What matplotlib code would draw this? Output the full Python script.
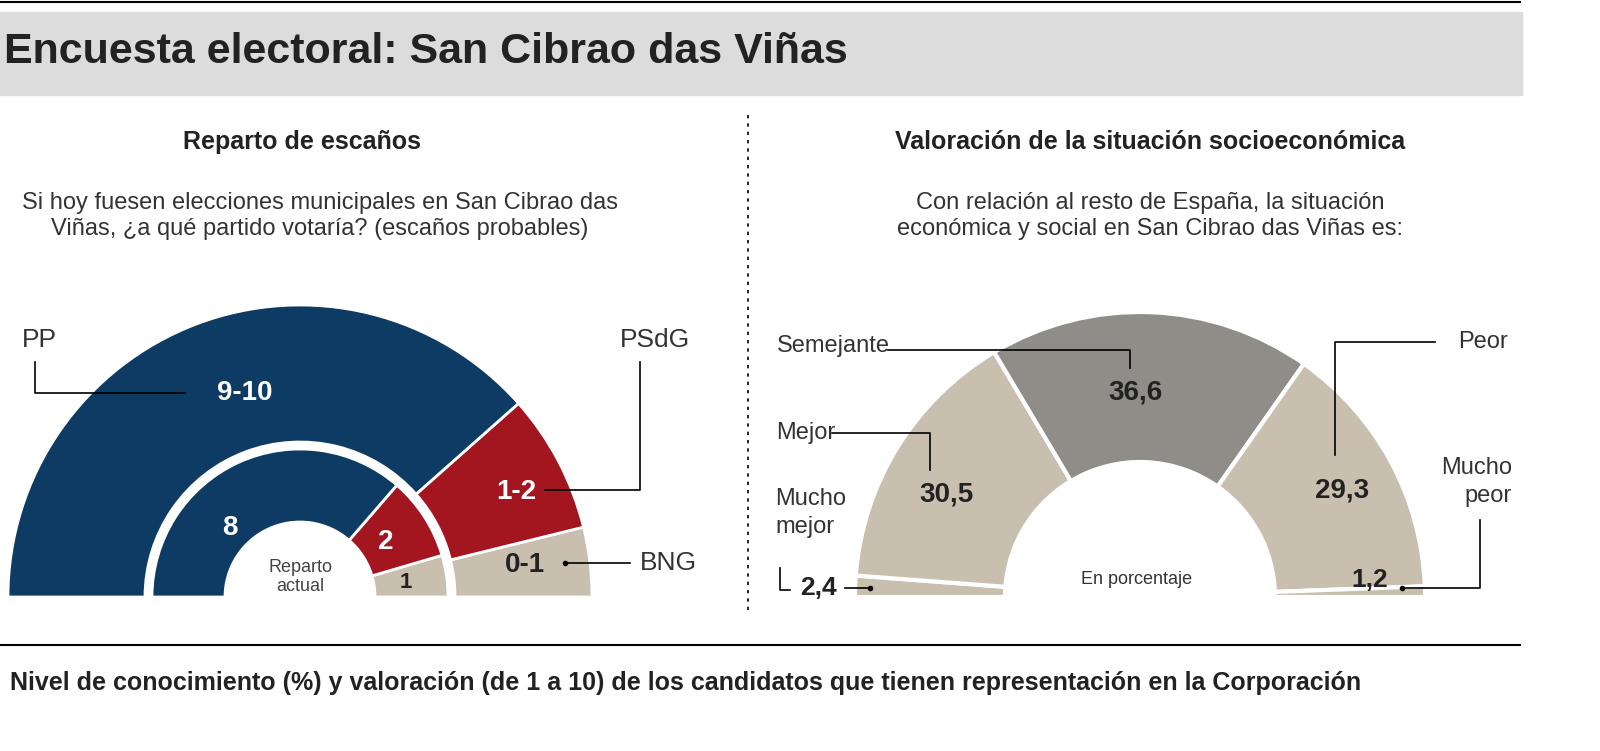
import matplotlib
matplotlib.use("Agg")
import matplotlib.pyplot as plt
from matplotlib.patches import Wedge, Rectangle

FONT = ["Liberation Sans Narrow", "Liberation Sans", "DejaVu Sans"]
plt.rcParams["font.family"] = FONT

# seats (outer = probable, inner = current), order from right (0 deg) to left
seat_parties = ["BNG", "PSdG", "PP"]
seat_probable = [1, 2, 10]
seat_probable_lbl = ["0-1", "1-2", "9-10"]
seat_current = [1, 2, 8]
party_colors = {"PP": "#0d3b63", "PSdG": "#a4161f", "BNG": "#c9bfae"}

# socioeconomic valuation, from left (180 deg) clockwise
val_cats = ["Mucho mejor", "Mejor", "Semejante", "Peor", "Mucho peor"]
val_pct = [2.4, 30.5, 36.6, 29.3, 1.2]
val_colors = ["#c9bfae", "#c9bfae", "#8f8d88", "#c9bfae", "#c9bfae"]

fig = plt.figure(figsize=(16, 7.51), dpi=100)
ax = fig.add_axes([0, 0, 1, 1])
ax.set_xlim(0, 1600)
ax.set_ylim(751, 0)
ax.axis("off")

# header
ax.plot([0, 1520], [2, 2], color="black", lw=1.5)
ax.add_patch(Rectangle((0, 12), 1522, 83, color="#dcdcdc", zorder=0))
ax.text(4, 52, "Encuesta electoral: San Cibrao das Viñas", fontsize=31,
        fontweight="bold", va="center", ha="left", color="#222222")

# left chart
ax.text(302, 142, "Reparto de escaños", fontsize=18, fontweight="bold",
        ha="center", va="center", color="#222222")
ax.text(320, 216, "Si hoy fuesen elecciones municipales en San Cibrao das\n"
        "Viñas, ¿a qué partido votaría? (escaños probables)", fontsize=17,
        ha="center", va="center", color="#333333", linespacing=1.25)

cx, cy = 300, 597


def ring(center, values, colors, r_out, width, gap_color="white", lw=2):
    total = sum(values)
    start = 0.0
    mids = []
    for v, c in zip(values, colors):
        span = 180.0 * v / total
        ax.add_patch(Wedge(center, r_out, start, start + span, width=width,
                           facecolor=c, edgecolor=gap_color, lw=lw))
        mids.append(start + span / 2)
        start += span
    return mids


ring((cx, -cy), seat_probable, [party_colors[p] for p in seat_parties], 292, 137)
ring((cx, -cy), seat_current, [party_colors[p] for p in seat_parties], 148, 73)
# wedges drawn with flipped y: fix by transforming
for p in ax.patches[1:]:
    p.set_transform(matplotlib.transforms.Affine2D().scale(1, -1) + ax.transData)

ax.text(245, 393, seat_probable_lbl[2], fontsize=20, fontweight="bold", color="white", ha="center", va="center")
ax.text(516, 492, seat_probable_lbl[1], fontsize=20, fontweight="bold", color="white", ha="center", va="center")
ax.text(525, 565, seat_probable_lbl[0], fontsize=20, fontweight="bold", color="#222222", ha="center", va="center")
ax.text(230, 528, str(seat_current[2]), fontsize=20, fontweight="bold", color="white", ha="center", va="center")
ax.text(386, 542, str(seat_current[1]), fontsize=20, fontweight="bold", color="white", ha="center", va="center")
ax.text(406, 582, str(seat_current[0]), fontsize=16, fontweight="bold", color="#222222", ha="center", va="center")
ax.text(300, 577, "Reparto\nactual", fontsize=13, color="#444444", ha="center", va="center")

ax.text(22, 340, "PP", fontsize=19, color="#333333", ha="left", va="center")
ax.plot([35, 35, 185], [362, 393, 393], color="black", lw=1.2)
ax.text(690, 340, "PSdG", fontsize=19, color="#333333", ha="right", va="center")
ax.plot([640, 640, 545], [362, 490, 490], color="black", lw=1.2)
ax.text(640, 563, "BNG", fontsize=19, color="#333333", ha="left", va="center")
ax.plot([565, 630], [563, 563], color="black", lw=1.2)
ax.plot([565], [563], "o", ms=3, color="black")

# divider
ax.plot([748, 748], [115, 612], color="black", lw=1.2, ls=(0, (2, 3)))

# right chart
rx, ry = 1140, 597
ax.text(1150, 142, "Valoración de la situación socioeconómica", fontsize=18,
        fontweight="bold", ha="center", va="center", color="#222222")
ax.text(1150, 216, "Con relación al resto de España, la situación\n"
        "económica y social en San Cibrao das Viñas es:", fontsize=17,
        ha="center", va="center", color="#333333", linespacing=1.25)

tot = sum(val_pct)
start = 180.0
for v, c in zip(val_pct, val_colors):
    span = 180.0 * v / tot
    w = Wedge((rx, ry), 285, start - span, start, width=150, facecolor=c,
              edgecolor="white", lw=3)
    w.set_transform(matplotlib.transforms.Affine2D().translate(-rx, -ry).scale(1, -1).translate(rx, ry) + ax.transData)
    ax.add_patch(w)
    start -= span

ax.text(1135, 392, f"{val_pct[2]:.1f}".replace(".", ","), fontsize=20, fontweight="bold", ha="center", va="center", color="#222222")
ax.text(946, 495, f"{val_pct[1]:.1f}".replace(".", ","), fontsize=20, fontweight="bold", ha="center", va="center", color="#222222")
ax.text(1342, 490, f"{val_pct[3]:.1f}".replace(".", ","), fontsize=20, fontweight="bold", ha="center", va="center", color="#222222")
ax.text(818, 588, f"{val_pct[0]:.1f}".replace(".", ","), fontsize=19, fontweight="bold", ha="center", va="center", color="#222222")
ax.text(1370, 580, f"{val_pct[4]:.1f}".replace(".", ","), fontsize=19, fontweight="bold", ha="center", va="center", color="#222222")
ax.text(1137, 580, "En porcentaje", fontsize=13, ha="center", va="center", color="#333333")

lc = "#333333"
ax.text(777, 346, val_cats[2], fontsize=17, ha="left", va="center", color=lc)
ax.plot([888, 1130, 1130], [350, 350, 368], color="black", lw=1.2)
ax.text(776, 433, val_cats[1], fontsize=17, ha="left", va="center", color=lc)
ax.plot([832, 930, 930], [433, 433, 470], color="black", lw=1.2)
ax.text(1508, 342, val_cats[3], fontsize=17, ha="right", va="center", color=lc)
ax.plot([1435, 1335, 1335], [342, 342, 455], color="black", lw=1.2)
ax.text(775, 513, "Mucho\nmejor", fontsize=17, ha="left", va="center", color=lc, linespacing=1.3)
ax.plot([780, 780, 790], [568, 590, 590], color="black", lw=1.2)
ax.plot([845, 870], [588, 588], color="black", lw=1.2)
ax.plot([870], [588], "o", ms=3, color="black")
ax.text(1512, 482, "Mucho\npeor", fontsize=17, ha="right", va="center", color=lc, linespacing=1.3)
ax.plot([1480, 1480, 1402], [520, 588, 588], color="black", lw=1.2)
ax.plot([1402], [588], "o", ms=3, color="black")

# bottom
ax.plot([0, 1520], [645, 645], color="black", lw=1.5)
ax.text(10, 683, "Nivel de conocimiento (%) y valoración (de 1 a 10) de los candidatos "
        "que tienen representación en la Corporación", fontsize=18,
        fontweight="bold", ha="left", va="center", color="#222222")

fig.savefig("out.png", dpi=100, facecolor="white")
